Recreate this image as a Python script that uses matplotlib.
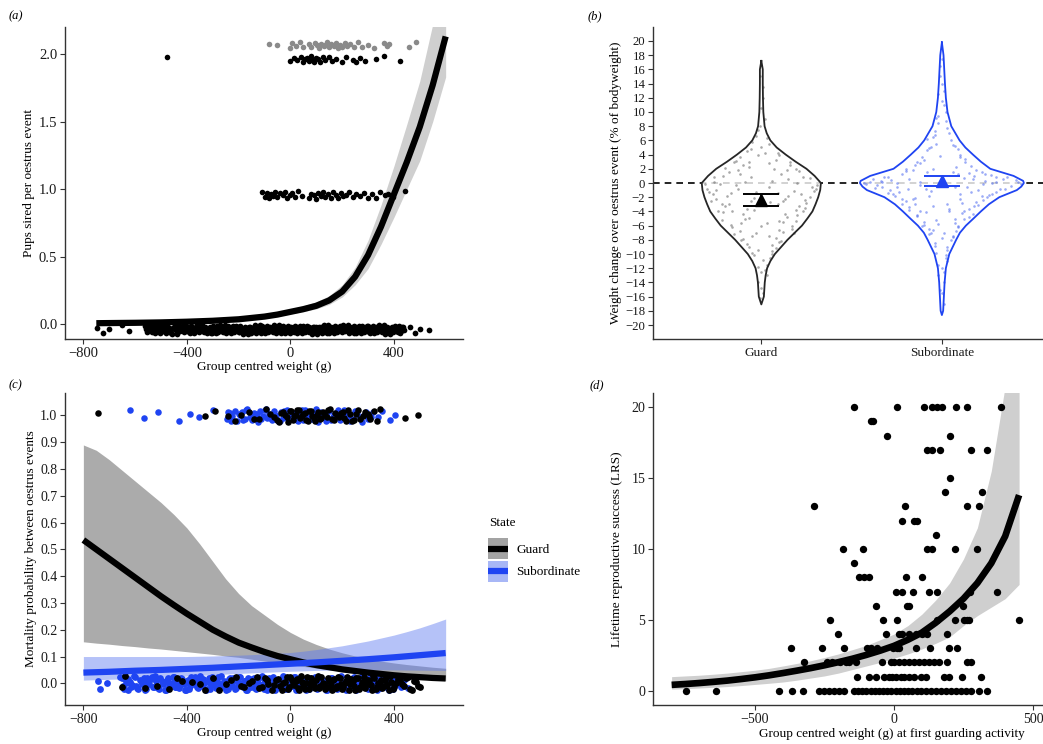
import numpy as np
import matplotlib
matplotlib.use('Agg')
import matplotlib.pyplot as plt
from matplotlib.patches import Rectangle
from matplotlib.lines import Line2D
from matplotlib.legend_handler import HandlerBase

plt.rcParams['font.family'] = ['Liberation Serif', 'DejaVu Serif']
plt.rcParams['axes.unicode_minus'] = True

W, H = 1043, 744
fig = plt.figure(figsize=(W / 100, H / 100), dpi=100)

# ---------------- shared visual jitter offsets (hand typed, in [-1, 1]) -------------
JIT = [0.3, -0.7, 0.1, 0.9, -0.4, 0.6, -0.9, 0.2, -0.2, 0.8, -0.6, 0.45, -0.1, 0.7, -0.8, 0.05, 0.55, -0.5, 0.95, -0.3,
       -0.75, 0.35, 0.15, -0.95, 0.65, -0.15, 0.85, -0.45, 0.25, -0.65, 0.75, -0.05, -0.85, 0.5, -0.35, 0.0, 0.9, -0.55, 0.4, -0.25,
       0.6, -0.9, 0.2, -0.7, 0.8, -0.1, 0.3, -0.6, 0.95, -0.4, 0.1, -0.8, 0.7, -0.2, 0.45, -0.65, 0.85, -0.05, -0.5, 0.25,
       -0.95, 0.55, -0.3, 0.65, -0.75, 0.05, 0.9, -0.15, 0.35, -0.85, 0.75, -0.45, 0.15, -0.6, 0.5, -0.25, 0.95, -0.7, 0.0, 0.4,
       -0.35, 0.8, -0.9, 0.2, -0.55, 0.6, -0.1, 0.7, -0.8, 0.3, -0.4, 0.85, -0.65, 0.1, 0.5, -0.2, -0.95, 0.45, 0.65, -0.5,
       0.25, -0.75, 0.9, -0.3, 0.05, -0.85, 0.55, -0.15, 0.75, -0.6, 0.35, -0.05, 0.95, -0.45, 0.15, -0.7, 0.6, -0.25, 0.8, -0.9,
       0.4, -0.35, 0.7, -0.55, 0.0, 0.85, -0.8, 0.2, -0.1, 0.5, -0.65, 0.95, -0.4, 0.3, -0.95, 0.65, -0.2, 0.1, -0.5, 0.75,
       -0.3, 0.45, -0.85, 0.55, -0.15, 0.9, -0.7, 0.25, -0.6, 0.05]

# ---------------- panel (a) data ----------------
a_zero_x = [-747, -725, -700, -650, -625, 462, 480, 500, 535,
            -560, -553, -545, -538, -530, -524, -516, -508, -501, -494, -486, -479, -471, -463, -457, -449, -441, -434,
            -427, -419, -412, -404, -397, -389, -382, -375, -367, -360, -352, -345, -337, -330, -323, -315, -308, -300,
            -293, -286, -278, -271, -263, -256, -249, -241, -234, -226, -219, -212, -204, -197, -189, -182, -175, -167,
            -160, -152, -145, -138, -130, -123, -115, -108, -101, -93, -86, -78, -71, -64, -56, -49, -41, -34, -27, -19,
            -12, -4, 3, 10, 18, 25, 33, 40, 47, 55, 62, 70, 77, 84, 92, 99, 107, 114, 121, 129, 136, 144, 151, 158, 166,
            173, 181, 188, 195, 203, 210, 218, 225, 232, 240, 247, 255, 262, 269, 277, 284, 292, 299, 306, 314, 321, 329,
            336, 343, 351, 358, 366, 373, 380, 388, 395, 403, 410, 418, 425, 433, 440]
a_zero_x2 = [-557, -549, -542, -534, -527, -520, -512, -505, -497, -490, -482, -475, -467, -460, -453, -445, -438, -430,
             -423, -415, -408, -400, -393, -386, -378, -371, -363, -356, -348, -341, -334, -326, -319, -311, -304, -296,
             -289, -282, -274, -267, -259, -252, -245, -237, -230, -222, -215, -208, -200, -193, -185, -178, -171, -163,
             -156, -148, -141, -134, -126, -119, -111, -104, -97, -89, -82, -74, -67, -60, -52, -45, -37, -30, -23, -15,
             -8, 0, 7, 14, 22, 29, 36, 44, 51, 59, 66, 73, 81, 88, 96, 103, 110, 118, 125, 133, 140, 147, 155, 162, 170,
             177, 184, 192, 199, 207, 214, 221, 229, 236, 244, 251, 258, 266, 273, 281, 288, 295, 303, 310, 318, 325, 332,
             340, 347, 355, 362, 369, 377, 384, 392, 399, 406, 414, 421, 429, 436]
a_one_x = [-109, -100, -90, -82, -75, -66, -58, -50, -40, -30, -22, -12, 0, 8, 18, 28, 45, 72, 80, 90, 98, 108, 118,
           126, 135, 145, 155, 165, 175, 185, 195, 205, 215, 228, 240, 255, 270, 285, 300, 315, 330, 348, 365, 378, 395, 444]
a_two_x = [-477, 0, 12, 25, 40, 48, 55, 63, 70, 78, 85, 92, 100, 108, 116, 125, 135, 148, 160, 175, 200, 215, 240, 255,
           270, 290, 330, 360, 425]
a_two_grey_x = [-84, -52, 0, 8, 22, 39, 50, 71, 80, 95, 103, 112, 120, 128, 135, 142, 150, 158, 167, 175, 183, 190, 200,
                210, 219, 230, 245, 262, 277, 300, 322, 361, 372, 380, 457, 487]
a_rows = {'zero': -0.04, 'one': 0.955, 'two': 1.96, 'two_grey': 2.065}

a_fit_x = [-750, -700, -600, -500, -400, -300, -200, -100, -50, 0, 50, 100, 150, 200, 250, 300, 350, 400, 450, 500, 550, 600]
a_fit_y = [0.006, 0.007, 0.009, 0.012, 0.017, 0.024, 0.035, 0.055, 0.07, 0.09, 0.11, 0.135, 0.175, 0.24, 0.35, 0.51,
           0.72, 0.96, 1.2, 1.46, 1.77, 2.13]
a_fit_lo = [0.002, 0.003, 0.004, 0.006, 0.01, 0.015, 0.025, 0.043, 0.056, 0.075, 0.092, 0.112, 0.145, 0.2, 0.29, 0.41,
            0.59, 0.79, 1.0, 1.21, 1.5, 1.83]
a_fit_hi = [0.014, 0.015, 0.017, 0.02, 0.026, 0.034, 0.047, 0.07, 0.087, 0.11, 0.135, 0.165, 0.21, 0.29, 0.42, 0.62,
            0.88, 1.17, 1.48, 1.8, 2.22, 2.7]

# ---------------- panel (b) data ----------------
b_cats = ['Guard', 'Subordinate']
g_vy = [17.2, 16, 14, 12, 10, 8, 7, 6, 5, 4, 3, 2, 1, 0, -1, -2, -3, -4, -5, -6, -7, -8, -9, -10, -11, -12, -13, -14, -16, -17.1]
g_hw = [0.0, 0.008, 0.008, 0.009, 0.011, 0.018, 0.03, 0.05, 0.085, 0.135, 0.19, 0.25, 0.295, 0.33, 0.326, 0.315, 0.3,
        0.283, 0.255, 0.225, 0.185, 0.145, 0.11, 0.075, 0.05, 0.032, 0.024, 0.019, 0.014, 0.0]
s_vy = [19.8, 18, 16, 14, 12, 10, 8, 6, 5, 4, 3, 2, 1, 0.3, 0, -0.5, -1, -2, -3, -4, -5, -6, -7, -8, -10, -12, -14, -16, -18, -18.6]
s_hw = [0.0, 0.009, 0.013, 0.017, 0.022, 0.031, 0.052, 0.098, 0.13, 0.172, 0.216, 0.268, 0.397, 0.45, 0.454, 0.44, 0.415,
        0.318, 0.26, 0.216, 0.175, 0.133, 0.1, 0.079, 0.041, 0.022, 0.015, 0.011, 0.007, 0.0]
g_dot_dx = [-0.25, -0.18, -0.05, 0.08, 0.2, 0.27, -0.3, -0.12, 0.02, 0.15, 0.24, -0.22, -0.08, 0.1, 0.19, -0.28, -0.15, 0.0,
            0.12, 0.28, -0.2, -0.06, 0.06, 0.22, -0.26, -0.1, 0.04, 0.17, -0.16, -0.02, 0.11, 0.23, -0.19, -0.07, 0.09, 0.18,
            -0.12, 0.01, 0.13, -0.09, 0.05, 0.1, -0.05, 0.03, -0.02, 0.01, -0.14, 0.14, -0.24, 0.25, -0.11, 0.07, -0.03, 0.16,
            -0.21, 0.2, -0.08, 0.12, -0.13, 0.08, -0.04, 0.02, -0.06, 0.04, -0.01, 0.0, -0.17, 0.19, -0.27, 0.29, -0.23, 0.21,
            -0.15, 0.15, -0.1, 0.1, -0.07, 0.06, -0.03, 0.03,
            -0.29, 0.3, -0.21, 0.23, -0.16, 0.17, -0.1, 0.11, -0.05, 0.06, -0.02, 0.02, 0.0, -0.01, 0.0, 0.01, -0.01, 0.03,
            -0.06, 0.09, -0.14, 0.16, -0.2, 0.21, -0.26, 0.27, -0.31, 0.31, -0.13, 0.09, -0.04, 0.05, -0.18, 0.19, -0.22,
            0.13, -0.07, 0.03, -0.11, 0.1, -0.03, 0.04, -0.08, 0.08, -0.02, 0.01, -0.12, 0.06, -0.09, 0.14, -0.17, 0.24,
            -0.25, 0.18, -0.07, 0.04, -0.02, 0.0, -0.04, 0.12]
g_dot_y = [-1.0, 1.5, -7.5, 3.2, -4.5, -2.0, -0.8, -6.8, 9.0, 0.5, -3.5, -5.2, 4.5, -8.3, 2.0, -2.6, -7.2, -12.5, -5.5, -0.5,
           -3.2, 0.8, -9.6, -1.5, 0.2, 2.6, 5.5, -6.0, -4.0, -14.0, 1.2, 0.9, -1.8, -9.0, -3.0, -7.0, 3.6, 12.0, -2.2, -5.0,
           -10.6, 3.9, 5.8, -11.5, 7.5, -15.5, -0.3, -4.8, -3.9, -2.8, -8.0, 2.0, -1.2, 2.5, 1.0, 0.0, -3.6, -6.9, 1.9, -7.8,
           -10.2, 4.2, -2.5, -0.6, 15.0, -6.0, -5.9, -5.4, -1.6, -1.1, -0.2, -3.3, 2.9, -1.9, -4.4, -5.3, 3.0, -8.8, 6.6, -13.0,
           -1.3, -0.9, -4.1, -4.0, -6.2, -6.5, -7.9, -8.1, -9.8, -10.0, -11.8, -12.3, -14.8, -16.2, 10.5, 13.5, 8.0, 6.4,
           4.8, 4.2, 3.1, 3.0, 2.1, 1.7, 0.9, 0.7, -0.1, -0.3, -0.9, -1.4, -2.1, -2.7, -2.9, -3.8, -3.0, -4.3, -4.9, -5.6,
           -5.7, -6.6, -7.0, -7.4, -8.6, -9.2, -9.4, -10.8, 1.3, 0.3, 0.1, 1.8, -1.4, -2.4, -2.2, -1.1, 2.2, 2.8, 3.9, 5.1,
           -3.8, -2.6]
s_dot_dx = [-0.4, 0.38, -0.3, 0.3, -0.2, 0.22, -0.15, 0.1, -0.05, 0.02, -0.01, 0.0, 0.03, -0.06, 0.12, -0.18, 0.25, -0.33,
            0.42, -0.1, 0.07, -0.02, 0.01, -0.01, 0.02, -0.04, 0.09, -0.14, 0.2, -0.26, 0.34, -0.36, 0.16, -0.12, 0.05, -0.03,
            0.0, 0.01, -0.02, 0.03, -0.07, 0.11, -0.2, 0.28, -0.38, 0.44, -0.22, 0.18, -0.08, 0.13, -0.04, 0.0, 0.06, -0.1,
            0.15, -0.24, 0.32, -0.28, 0.24, -0.16, 0.08, -0.06, 0.04, -0.02, 0.01, -0.03, 0.05, -0.12, 0.19, -0.3, 0.36, -0.42,
            0.14, -0.09, 0.0, 0.06, -0.14, 0.1, -0.05, 0.2, -0.18, 0.27, -0.11, 0.07, -0.01, 0.12, -0.25, 0.09, -0.07, 0.03,
            -0.34, 0.17, -0.08, 0.02, -0.15, 0.23, -0.19, 0.3, -0.02, 0.04, -0.05, 0.1, -0.12, 0.15, -0.22, 0.08, -0.03, 0.01,
            -0.43, 0.41, -0.37, 0.35, -0.32, 0.3, -0.27, 0.26, -0.22, 0.23, -0.18, 0.18, -0.14, 0.15, -0.1, 0.09, -0.07, 0.06,
            -0.04, 0.03, -0.02, 0.01, 0.0, -0.2, 0.19, -0.15, 0.13, -0.11, 0.1, -0.07, 0.06, -0.04, 0.03, -0.02, 0.01, 0.0,
            -0.01, 0.28, -0.12, 0.07, -0.25, 0.16, -0.06, 0.22, -0.29, 0.11, -0.16, 0.04, -0.09, 0.12, -0.03, 0.07, -0.05,
            0.0, 0.02, 0.17, -0.33, 0.09, -0.08, 0.24]
s_dot_y = [0.2, -0.4, 0.9, -1.2, 2.0, 1.5, -3.0, 4.0, 6.5, 10.0, 15.0, -12.0, -9.0, -7.0, -5.0, -3.8, -2.0, -0.6, 0.1, 3.2,
           5.2, 8.5, 13.0, -15.0, -10.5, -8.5, -6.2, -4.6, -3.1, -1.8, 0.6, -0.3, 2.4, 2.8, 6.0, 9.2, 17.5, -17.0, -13.0, -11.0,
           -6.5, -4.2, -2.5, -1.5, 0.5, -0.1, 1.2, 1.0, 4.6, 3.4, 7.3, 11.5, -7.6, -5.5, -3.6, -1.2, -0.9, 0.4, 0.3, 1.8, 2.2,
           5.0, 7.0, 12.5, -14.0, -9.8, -8.0, -4.0, -2.7, -1.4, 0.8, -0.1, -0.5, -0.8, 0.0, 1.6, 3.0, -2.2, -3.3, -1.0, 0.6,
           1.1, -6.0, -5.0, 3.8, 0.7, 0.0, 4.8, -1.9, -2.9, 0.3, -4.4, 6.2, 8.8, -2.1, -0.2, -0.9, 0.2, -5.8, -3.9, 2.0, -1.6,
           0.1, 1.4, -2.9, -6.8, 5.5, -7.0,
           0.0, 0.4, -0.7, -0.8, 0.8, 0.9, -1.6, -1.7, -2.3, -2.4, -3.4, -3.2, -4.5, -4.8, -5.9, -6.1, -7.2, -7.4, -8.9, -9.5,
           -11.5, -12.5, -15.5, 1.7, 1.9, 2.5, 2.9, 3.6, 3.7, 4.9, 5.3, 6.8, 7.8, 9.5, 11.0, 14.0, 16.5, 0.0, -0.3, -0.6,
           -0.5, -1.3, -1.1, -1.9, -1.0, -2.8, -2.2, -3.6, -4.1, -3.9, -5.2, -5.6, -6.6, -7.8, -10.2, 0.6, 0.2, 1.2, 1.6, 1.3]
b_mean = [-2.4, 0.3]
b_err_lo = [-3.3, -0.4]
b_err_hi = [-1.5, 1.0]

# ---------------- panel (c) data ----------------
c_top_sub_x = [-621, -564, -513, -432, -387, -354, -300, -245, -232, -225, -214, -205, -196, -188, -176, -168, -158, -150,
               -141, -133, -124, -116, -107, -98, -90, -82, -73, -64, -56, -47, -38, -30, -21, -12, -4, 5, 13, 22, 31, 40,
               49, 58, 67, 76, 88, 100, 112, 124, 137, 150, 163, 178, 192, 207, 222, 240, 258, 276, 294, 312, 354, 386, 406]
c_top_sub_x2 = [-240, -228, -200, -182, -171, -145, -128, -112, -95, -78, -60, -42, -26, -8, 9, 26, 44, 62, 80, 95, 108,
                120, 132, 145, 157, 170, 185, 200, 215, 230, 250, 268, 285, 300, 320, 340]
c_top_grd_x = [-745, -329, -290, -215, -190, -160, -120, -95, -65, -50, -35, -20, -8, 3, 15, 26, 38, 50, 61, 72, 84, 96,
               108, 120, 133, 146, 160, 174, 188, 202, 216, 230, 245, 262, 280, 298, 309, 348, 444, 495]
c_top_grd_x2 = [-240, -140, -80, -44, -28, -14, -2, 9, 20, 32, 44, 56, 67, 78, 90, 102, 114, 126, 140, 153, 167, 181, 195,
                209, 223, 238, 252, 270, 288, 305, 325, 335]
c_bot_sub_x = [-745, -737, -710, -657, -648, -640, -628, -620, -611, -600, -592, -583, -575, -566, -558, -549, -540, -532,
               -523, -515, -506, -498, -489, -481, -472, -464, -455, -447, -438, -430, -421, -413, -404, -396, -387, -379,
               -370, -362, -353, -345, -336, -328, -319, -311, -302, -294, -285, -277, -268, -260, -251, -243, -234, -226,
               -217, -209, -200, -192, -183, -175, -166, -158, -149, -141, -132, -124, -115, -107, -98, -90, -81, -73, -64,
               -56, -47, -39, -30, -22, -13, -5, 4, 12, 21, 29, 38, 46, 55, 63, 72, 80, 89, 97, 106, 114, 123, 131, 140, 148,
               157, 165, 174, 182, 191, 199, 208, 216, 225, 233, 242, 250, 259, 267, 276, 284, 293, 301, 310, 318, 327, 335,
               344, 352, 361, 369, 378, 386, 395, 403, 420, 438, 453]
c_bot_sub_x2 = [-652, -644, -635, -626, -617, -605, -596, -588, -579, -570, -562, -553, -545, -536, -527, -519, -510, -502,
                -493, -485, -476, -468, -459, -451, -442, -434, -425, -417, -408, -400, -391, -383, -374, -366, -357, -349,
                -340, -332, -323, -315, -306, -298, -289, -281, -272, -264, -255, -247, -238, -230, -221, -213, -204, -196,
                -187, -179, -170, -162, -153, -145, -136, -128, -119, -111, -102, -94, -85, -77, -68, -60, -51, -43, -34,
                -26, -17, -9, 0, 8, 17, 25, 34, 42, 51, 59, 68, 76, 85, 93, 102, 110, 119, 127, 136, 144, 153, 161, 170, 178,
                187, 195, 204, 212, 221, 229, 238, 246, 255, 263, 272, 280, 289, 297, 306, 314, 323, 331, 340, 348, 357,
                365, 374, 382, 391, 399, 410, 428, 445]
c_bot_grd_x = [-650, -640, -515, -470, -420, -380, -330, -300, -250, -210, -180, -150, -120, -100, -85, -70, -55, -40, -28,
               -15, -5, 5, 15, 25, 35, 45, 55, 65, 75, 85, 95, 105, 115, 125, 135, 145, 155, 165, 175, 185, 195, 205, 215,
               225, 235, 245, 255, 265, 275, 285, 295, 305, 315, 325, 335, 345, 355, 365, 375, 385, 395, 410, 425, 440, 455,
               470, 485, 502]
c_bot_grd_x2 = [-560, -440, -350, -275, -230, -190, -160, -130, -110, -90, -62, -48, -33, -20, -10, 0, 10, 20, 30, 40, 50,
                60, 70, 80, 90, 100, 110, 120, 130, 140, 150, 160, 170, 180, 190, 200, 210, 220, 230, 240, 250, 260, 270,
                280, 290, 300, 310, 320, 330, 340, 350, 360, 370, 380, 390, 400, 415, 432, 448, 462, 478, 493]
c_rows = {'top': 1.0, 'bottom': 0.0}

c_fit_x = [-800, -750, -700, -650, -600, -550, -500, -450, -400, -350, -300, -250, -200, -150, -100, -50, 0, 50, 100,
           150, 200, 250, 300, 350, 400, 450, 500, 550, 600]
c_grd_y = [0.535, 0.5, 0.465, 0.43, 0.395, 0.36, 0.325, 0.292, 0.26, 0.23, 0.2, 0.175, 0.152, 0.134, 0.117, 0.102, 0.09,
           0.078, 0.068, 0.06, 0.052, 0.046, 0.04, 0.035, 0.03, 0.026, 0.023, 0.02, 0.018]
c_grd_lo = [0.155, 0.15, 0.146, 0.141, 0.137, 0.132, 0.128, 0.123, 0.118, 0.113, 0.108, 0.102, 0.097, 0.09, 0.083,
            0.077, 0.07, 0.063, 0.057, 0.051, 0.045, 0.04, 0.035, 0.03, 0.025, 0.021, 0.017, 0.013, 0.01]
c_grd_hi = [0.89, 0.87, 0.835, 0.795, 0.755, 0.715, 0.675, 0.63, 0.58, 0.52, 0.455, 0.39, 0.335, 0.29, 0.255, 0.22,
            0.19, 0.165, 0.145, 0.128, 0.114, 0.102, 0.092, 0.083, 0.076, 0.07, 0.065, 0.06, 0.056]
c_sub_y = [0.04, 0.0415, 0.043, 0.045, 0.047, 0.0485, 0.05, 0.052, 0.054, 0.056, 0.058, 0.0605, 0.063, 0.0655, 0.068,
           0.0705, 0.073, 0.0755, 0.078, 0.081, 0.084, 0.087, 0.09, 0.0935, 0.097, 0.101, 0.105, 0.109, 0.113]
c_sub_lo = [0.012, 0.0135, 0.015, 0.0165, 0.018, 0.02, 0.022, 0.0245, 0.027, 0.0295, 0.032, 0.0345, 0.037, 0.039, 0.041,
            0.043, 0.045, 0.0465, 0.048, 0.049, 0.05, 0.05, 0.05, 0.05, 0.05, 0.0495, 0.049, 0.0485, 0.048]
c_sub_hi = [0.1, 0.1, 0.1, 0.1, 0.1, 0.1, 0.1, 0.1, 0.1, 0.101, 0.102, 0.1035, 0.105, 0.107, 0.109, 0.112, 0.115, 0.12,
            0.126, 0.133, 0.14, 0.149, 0.158, 0.169, 0.18, 0.193, 0.207, 0.223, 0.24]
c_states = ['Guard', 'Subordinate']

# ---------------- panel (d) data ----------------
d_levels = [20, 19, 18, 17, 15, 14, 13, 12, 11, 10, 9, 8, 7, 6, 5, 4, 3, 2, 1, 0]
d_weights = [
    [-144, 12, 108, 138, 156, 174, 222, 261, 385],
    [-82, -75],
    [-24, 201],
    [118, 136, 165, 276, 333],
    [201],
    [183, 315],
    [-288, 38, 261, 304],
    [30, 72, 84],
    [150],
    [-184, -111, 118, 138, 219, 300],
    [-144],
    [-126, -108, -90, 42, 100],
    [6, 30, 68, 126, 154, 273, 369],
    [-65, 48, 54, 249],
    [-231, -38, 12, 154, 219, 252, 264, 270, 449],
    [-201, -30, 18, 30, 54, 78, 102, 120, 190],
    [-371, -258, -180, -96, -84, -60, -2, 10, 18, 80, 129, 198, 228],
    [-322, -240, -222, -195, -174, -162, -135, -42, -12, 0, 18, 36, 54, 72, 90, 108, 126, 144, 162, 192, 261, 276],
    [-132, -90, -66, -36, -18, -6, 6, 24, 36, 54, 72, 96, 114, 180, 198, 243, 312],
    [-747, -639, -412, -367, -328, -270, -252, -234, -216, -198, -180, -144, -130, -114, -99, -84, -68, -53, -38, -24,
     -10, 6, 22, 36, 50, 66, 82, 96, 114, 132, 150, 168, 186, 204, 222, 240, 258, 276, 304, 334],
]
d_fit_x = [-800, -750, -700, -650, -600, -550, -500, -450, -400, -350, -300, -250, -200, -150, -100, -50, 0, 50, 100,
           150, 200, 250, 300, 350, 400, 450]
d_fit_y = [0.42, 0.48, 0.55, 0.63, 0.72, 0.83, 0.95, 1.09, 1.25, 1.42, 1.6, 1.8, 2.02, 2.26, 2.53, 2.83, 3.17, 3.6,
           4.1, 4.8, 5.6, 6.5, 7.6, 9.0, 10.9, 13.8]
d_fit_lo = [0.12, 0.15, 0.2, 0.25, 0.3, 0.37, 0.45, 0.53, 0.62, 0.75, 0.9, 1.05, 1.25, 1.5, 1.75, 2.0, 2.3, 2.6, 2.95,
            3.35, 3.8, 4.6, 5.3, 5.9, 6.5, 7.5]
d_fit_hi = [1.0, 1.05, 1.1, 1.17, 1.25, 1.35, 1.45, 1.58, 1.75, 1.93, 2.12, 2.35, 2.6, 2.9, 3.2, 3.6, 4.0, 4.6, 5.4,
            6.4, 7.6, 9.3, 11.5, 15.5, 21.5, 30.0]

# ---------------- styling helpers ----------------
BLUE = '#1f44f2'
SPINE = '#333333'


def rect(l, t, r, b):
    return [l / W, 1 - b / H, (r - l) / W, (b - t) / H]


def style(ax, tsize):
    for s in ['top', 'right']:
        ax.spines[s].set_visible(False)
    for s in ['left', 'bottom']:
        ax.spines[s].set_linewidth(1.0)
        ax.spines[s].set_color(SPINE)
    ax.tick_params(direction='out', length=3.5, width=0.8, color=SPINE, labelsize=tsize, pad=2, labelcolor='#1a1a1a')


def jittered(ax, xs, center, hh, off, **kw):
    jit = JIT[off:] + JIT[:off]
    pairs = list(zip(xs, jit))
    ax.scatter([p[0] for p in pairs], [center + p[1] * hh for p in pairs], **kw)


class BandKey:
    def __init__(self, band, line):
        self.band = band
        self.line = line


class BandKeyHandler(HandlerBase):
    def create_artists(self, legend, orig_handle, xdescent, ydescent, width, height, fontsize, trans):
        r = Rectangle((-xdescent, -ydescent), width, height, facecolor=orig_handle.band,
                      edgecolor='none', transform=trans)
        ln = Line2D([-xdescent, -xdescent + width], [-ydescent + height / 2] * 2,
                    color=orig_handle.line, lw=4.5, solid_capstyle='butt', transform=trans)
        return [r, ln]


# ================= panel (a) =================
axa = fig.add_axes(rect(65, 27, 463, 339))
style(axa, 10.5)
axa.fill_between(a_fit_x, a_fit_lo, a_fit_hi, color='#cfcfcf', lw=0, zorder=1)
jittered(axa, a_zero_x, a_rows['zero'], 0.033, 0, s=17, color='black', lw=0, zorder=2)
jittered(axa, a_zero_x2, a_rows['zero'], 0.033, 7, s=17, color='black', lw=0, zorder=2)
jittered(axa, a_one_x, a_rows['one'], 0.028, 3, s=16, color='black', lw=0, zorder=2)
jittered(axa, a_two_x, a_rows['two'], 0.024, 9, s=16, color='black', lw=0, zorder=2)
jittered(axa, a_two_grey_x, a_rows['two_grey'], 0.024, 21, s=16, color='#8a8a8a', lw=0, zorder=2)
axa.plot(a_fit_x, a_fit_y, color='black', lw=4.5, zorder=3, solid_capstyle='butt', solid_joinstyle='round')
axa.set_xlim(-871, 667)
axa.set_ylim(-0.111, 2.2)
axa.set_xticks([-800, -400, 0, 400])
axa.set_yticks([0, 0.5, 1.0, 1.5, 2.0])
axa.set_yticklabels(['0.0', '0.5', '1.0', '1.5', '2.0'])
axa.set_xlabel('Group centred weight (g)', fontsize=9.5, labelpad=1)
axa.set_ylabel('Pups sired per oestrus event', fontsize=9.5, labelpad=2.5)

# ================= panel (b) =================
axb = fig.add_axes(rect(653, 27, 1043, 339))
style(axb, 9.2)
axb.axhline(0, color='black', lw=1.2, ls=(0, (4, 3)), zorder=1)
for pos, vy, hw, ec in [(1, g_vy, g_hw, '#262626'), (2, s_vy, s_hw, BLUE)]:
    vy = np.array(vy)
    hw = np.array(hw)
    axb.fill_betweenx(vy, pos - hw, pos + hw, facecolor='white', alpha=0.8, lw=0, zorder=2)
    axb.plot(np.concatenate([pos + hw, (pos - hw)[::-1]]), np.concatenate([vy, vy[::-1]]),
             color=ec, lw=1.3, zorder=4)
axb.scatter([1 + d for d in g_dot_dx], g_dot_y[:len(g_dot_dx)], s=3.5, color='#707070', alpha=0.6, lw=0, zorder=3)
axb.scatter([2 + d for d in s_dot_dx], s_dot_y[:len(s_dot_dx)], s=3.5, color='#4a66f0', alpha=0.55, lw=0, zorder=3)
for i, col in enumerate(['black', BLUE]):
    axb.errorbar([i + 1], [b_mean[i]], yerr=[[b_mean[i] - b_err_lo[i]], [b_err_hi[i] - b_mean[i]]],
                 fmt='^', ms=9, color=col, ecolor=col, elinewidth=1.2, capsize=13, capthick=1.4, zorder=5)
axb.set_xlim(0.4, 2.56)
axb.set_ylim(-21.97, 21.97)
axb.set_xticks([1, 2])
axb.set_xticklabels(b_cats, fontsize=9.5)
axb.set_yticks(list(range(-20, 21, 2)))
axb.set_ylabel('Weight change over oestrus event (% of bodyweight)', fontsize=9.5, labelpad=2)

# ================= panel (c) =================
axc = fig.add_axes(rect(65, 393, 463, 705))
style(axc, 10)
axc.fill_between(c_fit_x, c_grd_lo, c_grd_hi, color='#8f8f8f', alpha=0.75, lw=0, zorder=1)
axc.fill_between(c_fit_x, c_sub_lo, c_sub_hi, color='#5c78f0', alpha=0.45, lw=0, zorder=1)
jittered(axc, c_top_sub_x, c_rows['top'], 0.024, 3, s=22, color=BLUE, lw=0, zorder=2)
jittered(axc, c_top_sub_x2, c_rows['top'], 0.024, 40, s=22, color=BLUE, lw=0, zorder=2)
jittered(axc, c_top_grd_x, c_rows['top'], 0.024, 11, s=22, color='black', lw=0, zorder=2)
jittered(axc, c_top_grd_x2, c_rows['top'], 0.024, 57, s=22, color='black', lw=0, zorder=2)
jittered(axc, c_bot_sub_x, c_rows['bottom'], 0.028, 0, s=24, color=BLUE, lw=0, zorder=2)
jittered(axc, c_bot_sub_x2, c_rows['bottom'], 0.028, 13, s=24, color=BLUE, lw=0, zorder=2)
jittered(axc, c_bot_grd_x, c_rows['bottom'], 0.028, 17, s=24, color='black', lw=0, zorder=2)
jittered(axc, c_bot_grd_x2, c_rows['bottom'], 0.028, 29, s=24, color='black', lw=0, zorder=2)
axc.plot(c_fit_x, c_grd_y, color='black', lw=4.5, zorder=3, solid_capstyle='butt')
axc.plot(c_fit_x, c_sub_y, color=BLUE, lw=4.5, zorder=3, solid_capstyle='butt')
axc.set_xlim(-871, 667)
axc.set_ylim(-0.081, 1.084)
axc.set_xticks([-800, -400, 0, 400])
axc.set_yticks([i / 10 for i in range(11)])
axc.set_yticklabels(['%.1f' % (i / 10) for i in range(11)])
axc.set_xlabel('Group centred weight (g)', fontsize=9.5, labelpad=1)
axc.set_ylabel('Mortality probability between oestrus events', fontsize=9.5, labelpad=2.5)

keys = [BandKey('#a3a3a3', 'black'), BandKey('#a8b7f6', BLUE)]
leg = fig.legend(keys, c_states, handler_map={BandKey: BandKeyHandler()},
                 loc='upper left', bbox_to_anchor=(488 / W, 1 - 538 / H),
                 bbox_transform=fig.transFigure, frameon=False, fontsize=9.5,
                 handlelength=1.55, handleheight=2.1, handletextpad=0.6, labelspacing=0.1, borderpad=0,
                 borderaxespad=0)
fig.text(489 / W, 1 - 523 / H, 'State', fontsize=9.5, ha='left', va='center')

# ================= panel (d) =================
axd = fig.add_axes(rect(653, 393, 1043, 705))
style(axd, 10)
axd.fill_between(d_fit_x, d_fit_lo, d_fit_hi, color='#cfcfcf', lw=0, zorder=1)
for lvl, xs in zip(d_levels, d_weights):
    axd.scatter(xs, [lvl] * len(xs), s=28, color='black', lw=0, zorder=2)
axd.plot(d_fit_x, d_fit_y, color='black', lw=4.8, zorder=3, solid_capstyle='butt')
axd.set_xlim(-867, 536)
axd.set_ylim(-1, 21)
axd.set_xticks([-500, 0, 500])
axd.set_yticks([0, 5, 10, 15, 20])
axd.set_xlabel('Group centred weight (g) at first guarding activity', fontsize=9.5, labelpad=1)
axd.xaxis.set_label_coords(0.612, -0.075)
axd.set_ylabel('Lifetime reproductive success (LRS)', fontsize=9.5, labelpad=6)

# ---------------- panel letters ----------------
for txt, x, y in [('(a)', 9, 16), ('(b)', 588, 16), ('(c)', 9, 385), ('(d)', 590, 385)]:
    fig.text(x / W, 1 - y / H, txt, fontsize=9, fontstyle='italic', va='center', ha='left')

fig.savefig('out.png', dpi=100)
